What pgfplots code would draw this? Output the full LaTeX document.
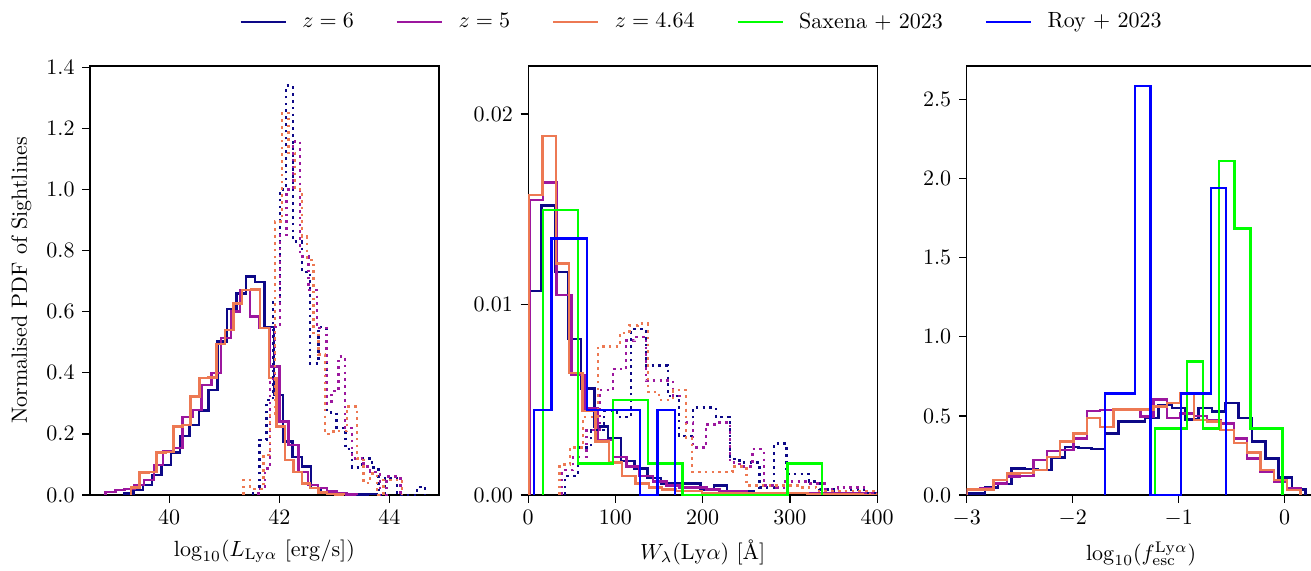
\documentclass[border=0pt]{standalone}
\usepackage{pgfplots}
\pgfplotsset{compat=1.18}

\definecolor{zsix}{HTML}{0D0887}
\definecolor{zfive}{HTML}{9C179E}
\definecolor{zfour}{HTML}{ED7953}
\definecolor{saxena}{HTML}{00FF00}
\definecolor{roy}{HTML}{0000FF}

\pgfplotsset{
  histo/.style={const plot mark left, no marks, line width=1.1pt, line join=miter},
  dots/.style={dash pattern=on 1.2pt off 1.9pt},
  panel/.style={
    scale only axis, width=158.6pt, height=195pt,
    anchor=south west, ymin=0,
    tick align=outside, tick pos=left,
    major tick length=3.5pt,
    axis line style={line width=0.6pt},
    every tick/.style={line width=0.6pt, black},
  },
}

\begin{document}
\begin{tikzpicture}
\useasboundingbox (0,0) rectangle (595.9pt,259.5pt);

% ---- luminosity
\begin{axis}[panel, at={(40.9pt,34.5pt)},
  xmin=38.56, xmax=44.9, ymax=1.404,
  xtick={40,42,44},
  ytick={0,0.2,0.4,0.6,0.8,1.0,1.2,1.4},
  yticklabel style={/pgf/number format/.cd, fixed, fixed zerofill, precision=1},
  xlabel={$\log_{10}(L_{\mathrm{Ly}\alpha}\ [\mathrm{erg/s}])$},
  ylabel={Normalised PDF of Sightlines},
]
\addplot[histo, zsix] coordinates {(39.18,0) (39.18,0.005) (39.35,0.016) (39.52,0.033) (39.69,0.065) (39.86,0.098) (40.03,0.139) (40.20,0.194) (40.37,0.229) (40.54,0.276) (40.71,0.344) (40.88,0.502) (41.05,0.608) (41.22,0.660) (41.39,0.715) (41.56,0.698) (41.73,0.549) (41.90,0.327) (42.07,0.175) (42.24,0.125) (42.41,0.093) (42.58,0.022) (42.75,0.008) (42.92,0.004) (43.09,0.003) (43.26,0.002) (43.43,0.001) (43.60,0.003) (43.77,0)};
\addplot[histo, zfive] coordinates {(38.84,0) (38.84,0.01) (39.02,0.016) (39.19,0.02) (39.37,0.033) (39.54,0.049) (39.72,0.098) (39.89,0.142) (40.07,0.153) (40.24,0.256) (40.42,0.278) (40.59,0.36) (40.77,0.40) (40.94,0.513) (41.12,0.60) (41.29,0.671) (41.47,0.584) (41.64,0.546) (41.82,0.42) (42.0,0.24) (42.17,0.164) (42.35,0.076) (42.52,0.033) (42.7,0.022) (42.87,0.011) (43.05,0.006) (43.22,0.002) (43.4,0)};
\addplot[histo, zfour] coordinates {(39.31,0) (39.31,0.025) (39.46,0.073) (39.62,0.075) (39.77,0.139) (39.93,0.14) (40.08,0.224) (40.24,0.23) (40.39,0.322) (40.55,0.382) (40.70,0.385) (40.86,0.494) (41.01,0.54) (41.17,0.627) (41.32,0.671) (41.49,0.673) (41.65,0.546) (41.81,0.382) (41.95,0.224) (42.10,0.115) (42.26,0.076) (42.41,0.038) (42.56,0.022) (42.71,0.008) (42.87,0.004) (43.02,0.002) (43.18,0)};
\addplot[histo, dots, zsix] coordinates {(41.52,0) (41.52,0.02) (41.64,0.18) (41.77,0.31) (41.89,0.63) (42.01,1.00) (42.12,1.34) (42.245,0.83) (42.41,0.73) (42.56,0.43) (42.71,0.55) (42.86,0.27) (43.04,0.22) (43.20,0.15) (43.32,0.09) (43.50,0.12) (43.68,0.09) (43.80,0.0) (43.92,0.055) (44.14,0) (44.50,0.027) (44.65,0)};
\addplot[histo, dots, zfive] coordinates {(41.62,0) (41.62,0.02) (41.74,0.087) (41.83,0.38) (41.92,0.55) (42.01,0.85) (42.13,1.0) (42.25,1.157) (42.38,0.78) (42.53,0.67) (42.68,0.546) (42.86,0.30) (42.95,0.34) (43.075,0.453) (43.195,0.22) (43.32,0.12) (43.53,0.093) (43.65,0.076) (43.83,0.0) (43.95,0.06) (44.2,0)};
\addplot[histo, dots, zfour] coordinates {(41.35,0) (41.35,0.05) (41.47,0.02) (41.59,0.02) (41.71,0.13) (41.83,0.26) (41.92,0.895) (42.045,1.25) (42.17,1.12) (42.29,1.0) (42.41,0.846) (42.50,0.77) (42.62,0.53) (42.71,0.46) (42.83,0.20) (42.985,0.21) (43.23,0.29) (43.41,0.12) (43.53,0.04) (43.65,0.07) (43.77,0.0) (43.89,0.05) (44.23,0)};
\end{axis}

% ---- equivalent width
\begin{axis}[panel, at={(240.1pt,34.5pt)},
  xmin=0, xmax=400, ymax=0.02252,
  xtick={0,100,200,300,400},
  ytick={0,0.01,0.02},
  yticklabel style={/pgf/number format/.cd, fixed, fixed zerofill, precision=2},
  scaled y ticks=false,
  xlabel={$W_\lambda(\mathrm{Ly}\alpha)$ [\AA]},
  legend style={at={(0.5,1.1026)}, anchor=center, draw=none, fill=none,
    legend columns=5, column sep=0pt,
    /tikz/every odd column/.append style={column sep=5pt},
    /tikz/every even column/.append style={column sep=17pt}},
  legend image code/.code={\draw[#1, line width=1.1pt] (0pt,0pt) -- (20.5pt,0pt);},
]
\addlegendimage{zsix}\addlegendentry{$z=6$}
\addlegendimage{zfive}\addlegendentry{$z=5$}
\addlegendimage{zfour}\addlegendentry{$z=4.64$}
\addlegendimage{saxena}\addlegendentry{Saxena $+$\ 2023}
\addlegendimage{roy}\addlegendentry{Roy $+$\ 2023}
\addplot[histo, zsix, forget plot] coordinates {(1.5,0) (1.5,0.0107) (15.2,0.0152) (30.4,0.0117) (45.6,0.0082) (60.8,0.0056) (76,0.0036) (91.2,0.0030) (106.4,0.0018) (121.6,0.0014) (136.8,0.0009) (152,0.0006) (167.2,0.0006) (182.4,0.0006) (197.6,0.0003) (212.8,0.0005) (228,0.0002) (243.2,0.0002) (258.4,0.0001) (273.6,0.0001) (288.8,0.0001) (304,0.0001) (319.2,0.0001) (334.4,0.0001) (349.6,0.0001) (364.8,0.0001) (380,0.00005) (395.2,0)};
\addplot[histo, zfive, forget plot] coordinates {(1.5,0) (1.5,0.0155) (17,0.0164) (32.4,0.0105) (49.6,0.0063) (64.8,0.00455) (80,0.0029) (97,0.0020) (112.5,0.0015) (127.7,0.0010) (143,0.0007) (158.3,0.0005) (173.6,0.0004) (188.9,0.0004) (204.2,0.0003) (219.5,0.0002) (234.8,0.0002) (250,0.0001) (280,0.0001) (310,0.0001) (340,0.0001) (370,0.0001) (398,0)};
\addplot[histo, zfour, forget plot] coordinates {(1,0) (1,0.01575) (16.2,0.01885) (31.5,0.01216) (46.8,0.0064) (62,0.0044) (77.3,0.0028) (92.5,0.0017) (107.8,0.0010) (123,0.0006) (138.3,0.0004) (153.5,0.0003) (168.8,0.0002) (184,0.0002) (199.3,0.0001) (230,0.0001) (260,0.0001) (290,0.0001) (320,0.00005) (400,0)};
\addplot[histo, dots, zsix, forget plot] coordinates {(42,0) (42,0.0010) (57,0.0025) (72,0.0034) (87,0.0044) (102,0.0041) (118,0.0087) (135,0.0068) (160,0.0052) (173,0.0031) (189,0.0046) (215,0.0041) (231,0.0019) (242,0.0017) (265,0.0004) (282,0.0027) (296,0.0011) (322,0.0007) (334,0.0003) (350,0.0002) (370,0.0003) (385,0.0001) (400,0)};
\addplot[histo, dots, zfive, forget plot] coordinates {(38,0) (38,0.0013) (51,0.0020) (67,0.0034) (82,0.0055) (97,0.0066) (112,0.0081) (122,0.0083) (135,0.0060) (166,0.0052) (181,0.0038) (189,0.0025) (204,0.0037) (219,0.0038) (231,0.0017) (242,0.0015) (257,0.0024) (270,0.0005) (284,0.0004) (295,0.0007) (322,0.0006) (340,0.0003) (355,0.0004) (385,0.0001) (400,0)};
\addplot[histo, dots, zfour, forget plot] coordinates {(36,0) (36,0.0016) (48,0.0025) (63,0.0041) (80,0.0078) (105,0.0085) (116,0.0089) (126,0.0090) (137,0.0054) (150,0.0050) (166,0.0055) (181,0.0030) (188,0.0012) (234,0.0015) (250,0.0005) (310,0.0004) (330,0.0002) (400,0)};
\addplot[histo, saxena, forget plot] coordinates {(17,0) (17,0.01496) (57,0.00166) (97,0.005) (137,0.00166) (177,0) (297,0.00166) (337,0)};
\addplot[histo, roy, forget plot] coordinates {(6.6,0) (6.6,0.00446) (26.8,0.01347) (67.2,0.00446) (127.8,0) (148,0.00446) (168.2,0)};
\end{axis}

% ---- escape fraction
\begin{axis}[panel, at={(439.4pt,34.5pt)},
  xmin=-3, xmax=0.292, ymax=2.712,
  xtick={-3,-2,-1,0},
  ytick={0,0.5,1.0,1.5,2.0,2.5},
  yticklabel style={/pgf/number format/.cd, fixed, fixed zerofill, precision=1},
  xlabel={$\log_{10}(f_{\mathrm{esc}}^{\mathrm{Ly}\alpha})$},
]
\addplot[histo, zsix] coordinates {(-3.081,0) (-3.081,0.01) (-2.955,0.01) (-2.829,0.048) (-2.703,0.07) (-2.577,0.168) (-2.451,0.165) (-2.325,0.158) (-2.199,0.238) (-2.073,0.305) (-1.947,0.298) (-1.821,0.29) (-1.695,0.39) (-1.569,0.464) (-1.443,0.464) (-1.317,0.485) (-1.191,0.57) (-1.065,0.55) (-0.939,0.478) (-0.813,0.55) (-0.687,0.527) (-0.561,0.58) (-0.435,0.485) (-0.309,0.337) (-0.183,0.232) (-0.057,0.11) (0.069,0.036) (0.195,0)};
\addplot[histo, zfive] coordinates {(-3.0,0) (-3.0,0.03) (-2.874,0.04) (-2.748,0.074) (-2.622,0.116) (-2.496,0.12) (-2.370,0.221) (-2.244,0.28) (-2.118,0.285) (-1.992,0.358) (-1.866,0.53) (-1.740,0.537) (-1.614,0.54) (-1.488,0.54) (-1.362,0.495) (-1.236,0.605) (-1.110,0.485) (-0.984,0.516) (-0.858,0.50) (-0.732,0.474) (-0.606,0.453) (-0.480,0.358) (-0.354,0.232) (-0.228,0.147) (-0.102,0.084) (0.024,0.04) (0.150,0)};
\addplot[histo, zfour] coordinates {(-3.0,0) (-3.0,0.036) (-2.874,0.036) (-2.748,0.095) (-2.622,0.137) (-2.496,0.14) (-2.370,0.158) (-2.244,0.24) (-2.118,0.337) (-1.992,0.39) (-1.866,0.485) (-1.740,0.43) (-1.614,0.54) (-1.488,0.54) (-1.362,0.54) (-1.236,0.56) (-1.110,0.58) (-0.984,0.643) (-0.858,0.474) (-0.732,0.464) (-0.606,0.41) (-0.480,0.327) (-0.354,0.268) (-0.228,0.158) (-0.102,0.095) (0.024,0.03) (0.150,0)};
\addplot[histo, saxena] coordinates {(-1.222,0) (-1.222,0.421) (-1.072,0.421) (-0.922,0.843) (-0.772,0.421) (-0.622,2.111) (-0.472,1.686) (-0.322,0.421) (-0.172,0.421) (-0.022,0)};
\addplot[histo, roy] coordinates {(-1.695,0) (-1.695,0.643) (-1.552,0.643) (-1.41,2.585) (-1.267,0) (-1.124,0) (-0.981,0.643) (-0.838,0.643) (-0.695,1.94) (-0.552,0)};
\end{axis}
\end{tikzpicture}
\end{document}
